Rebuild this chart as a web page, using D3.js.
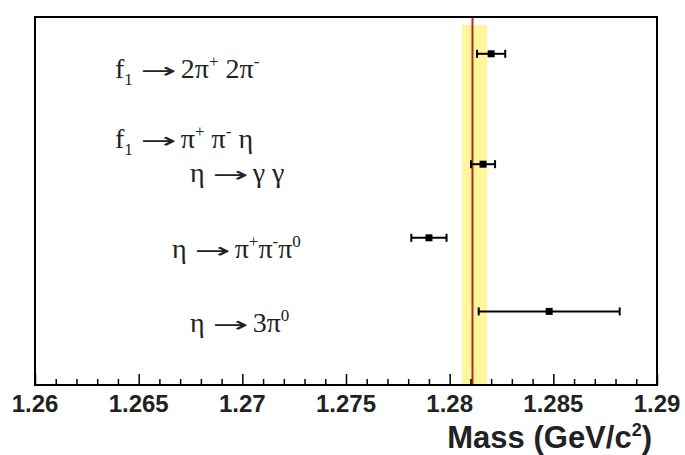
<!DOCTYPE html>
<html>
<head>
<meta charset="utf-8">
<script src="https://cdn.jsdelivr.net/npm/d3@7"></script>
<style>
  html, body { margin: 0; padding: 0; background: #fff; }
  svg { display: block; }
</style>
</head>
<body>
<svg id="chart" width="685" height="455"></svg>
<script>
// f1(1285) mass measurements per decay channel
const channels = ["f1 -> 2pi+ 2pi-", "f1 -> pi+ pi- eta (eta -> gamma gamma)", "eta -> pi+ pi- pi0", "eta -> 3pi0"];
const rows = [4.5, 3, 2, 1];
const masses = [1.2820, 1.28161, 1.27900, 1.28480];
const errors = [0.00068, 0.00058, 0.00085, 0.0034];

// Reference mass and its uncertainty band
const refMass = 1.2811;
const refBand = [1.2806, 1.2818];

// Axis
const xDomain = [1.26, 1.29];
const majorTicks = [1.26, 1.265, 1.27, 1.275, 1.28, 1.285, 1.29];
const tickLabels = ["1.26", "1.265", "1.27", "1.275", "1.28", "1.285", "1.29"];
const axisTitle = "Mass (GeV/c";

// Channel labels as runs of normal / sub / sup / arrow text
const labelLines = [
  [[["f","n"],["1","sub"],["\u2192","arr"],["2\u03c0","n"],["+","sup"],[" 2\u03c0","n"],["-","sup"]]],
  [[["f","n"],["1","sub"],["\u2192","arr"],["\u03c0","n"],["+","sup"],[" \u03c0","n"],["-","sup"],[" \u03b7","n"]],
   [["\u03b7","n"],["\u2192","arr"],["\u03b3 \u03b3","n"]]],
  [[["\u03b7","n"],["\u2192","arr"],["\u03c0","n"],["+","sup"],["\u03c0","n"],["-","sup"],["\u03c0","n"],["0","sup"]]],
  [[["\u03b7","n"],["\u2192","arr"],["3\u03c0","n"],["0","sup"]]]
];

const svg = d3.select("#chart");
const frame = {left: 35, right: 657, top: 17, bottom: 385};

const x = d3.scaleLinear().domain(xDomain).range([frame.left, frame.right]);
const y = d3.scaleLinear().domain([0, 5]).range([frame.bottom, frame.top]);

// Uncertainty band and reference line
svg.append("rect")
  .attr("x", x(refBand[0]))
  .attr("y", frame.top + 8)
  .attr("width", x(refBand[1]) - x(refBand[0]))
  .attr("height", frame.bottom - frame.top - 8)
  .attr("fill", "#fff59a");

svg.append("line")
  .attr("x1", x(refMass)).attr("x2", x(refMass))
  .attr("y1", frame.top).attr("y2", frame.bottom)
  .attr("stroke", "#b82a1c").attr("stroke-width", 2);

// Frame
svg.append("rect")
  .attr("x", frame.left).attr("y", frame.top)
  .attr("width", frame.right - frame.left).attr("height", frame.bottom - frame.top)
  .attr("fill", "none").attr("stroke", "#000").attr("stroke-width", 2);

// Bottom axis: ticks point up into the plot
const minorTicks = d3.range(0, 31).map(i => 1.26 + i * 0.001);
const axis = d3.axisBottom(x).tickValues(minorTicks).tickSize(0).tickFormat("");
const ax = svg.append("g").attr("transform", `translate(0,${frame.bottom})`).call(axis);
ax.select(".domain").remove();
ax.selectAll(".tick line")
  .attr("y2", d => -(majorTicks.some(m => Math.abs(m - d) < 1e-9) ? 11 : 6))
  .attr("stroke", "#000").attr("stroke-width", 1.5);

svg.append("g").selectAll("text").data(majorTicks).join("text")
  .attr("x", d => x(d))
  .attr("y", frame.bottom + 27)
  .attr("text-anchor", "middle")
  .attr("font-family", "Liberation Sans, Arial, sans-serif")
  .attr("font-weight", "bold")
  .attr("font-size", 24)
  .attr("fill", "#222")
  .text((d, i) => tickLabels[i]);

const title = svg.append("text")
  .attr("x", frame.right - 5)
  .attr("y", 448)
  .attr("text-anchor", "end")
  .attr("font-family", "Liberation Sans, Arial, sans-serif")
  .attr("font-weight", "bold")
  .attr("font-size", 31)
  .attr("fill", "#222");
title.append("tspan").text(axisTitle);
title.append("tspan").attr("dy", -12).attr("font-size", 18).text("2");
title.append("tspan").attr("dy", 12).text(")");

// Error bars
const g = svg.append("g");
const pts = masses.map((m, i) => ({m, e: errors[i], r: rows[i]}));
g.selectAll("line.bar").data(pts).join("line")
  .attr("x1", d => x(d.m - d.e)).attr("x2", d => x(d.m + d.e))
  .attr("y1", d => y(d.r)).attr("y2", d => y(d.r))
  .attr("stroke", "#000").attr("stroke-width", 2);
g.selectAll("line.capl").data(pts).join("line")
  .attr("x1", d => x(d.m - d.e)).attr("x2", d => x(d.m - d.e))
  .attr("y1", d => y(d.r) - 4).attr("y2", d => y(d.r) + 4)
  .attr("stroke", "#000").attr("stroke-width", 2);
g.selectAll("line.capr").data(pts).join("line")
  .attr("x1", d => x(d.m + d.e)).attr("x2", d => x(d.m + d.e))
  .attr("y1", d => y(d.r) - 4).attr("y2", d => y(d.r) + 4)
  .attr("stroke", "#000").attr("stroke-width", 2);
g.selectAll("rect.pt").data(pts).join("rect")
  .attr("x", d => x(d.m) - 3.5).attr("y", d => y(d.r) - 3.5)
  .attr("width", 7).attr("height", 7).attr("fill", "#000");

// Channel labels: start x and baseline offsets from each row
const labelPlace = [
  [{x: 115, dy: 24}],
  [{x: 115, dy: -16}, {x: 190, dy: 18}],
  [{x: 172, dy: 20}],
  [{x: 190, dy: 21}]
];
const fs = 28, small = 17;
labelLines.forEach((lines, i) => {
  lines.forEach((runs, j) => {
    const p = labelPlace[i][j];
    const t = svg.append("text")
      .attr("x", p.x)
      .attr("y", y(rows[i]) + p.dy)
      .attr("font-family", "Liberation Serif, Times New Roman, serif")
      .attr("font-size", fs)
      .attr("fill", "#222");
    let shift = 0, afterArrow = false;
    runs.forEach(([s, kind]) => {
      const target = kind === "sub" ? 7 : kind === "sup" ? -11 : 0;
      const ts = t.append("tspan")
        .attr("dy", target - shift)
        .attr("font-size", kind === "sub" || kind === "sup" ? small : fs)
        .text(s);
      if (afterArrow) ts.attr("dx", 4);
      afterArrow = kind === "arr";
      if (kind === "arr") {
        ts.attr("dx", 8)
          .attr("font-family", "DejaVu Sans, sans-serif")
          .attr("font-size", 21)
          .attr("textLength", 36)
          .attr("lengthAdjust", "spacingAndGlyphs");
      }
      shift = target;
    });
  });
});
</script>
</body>
</html>
